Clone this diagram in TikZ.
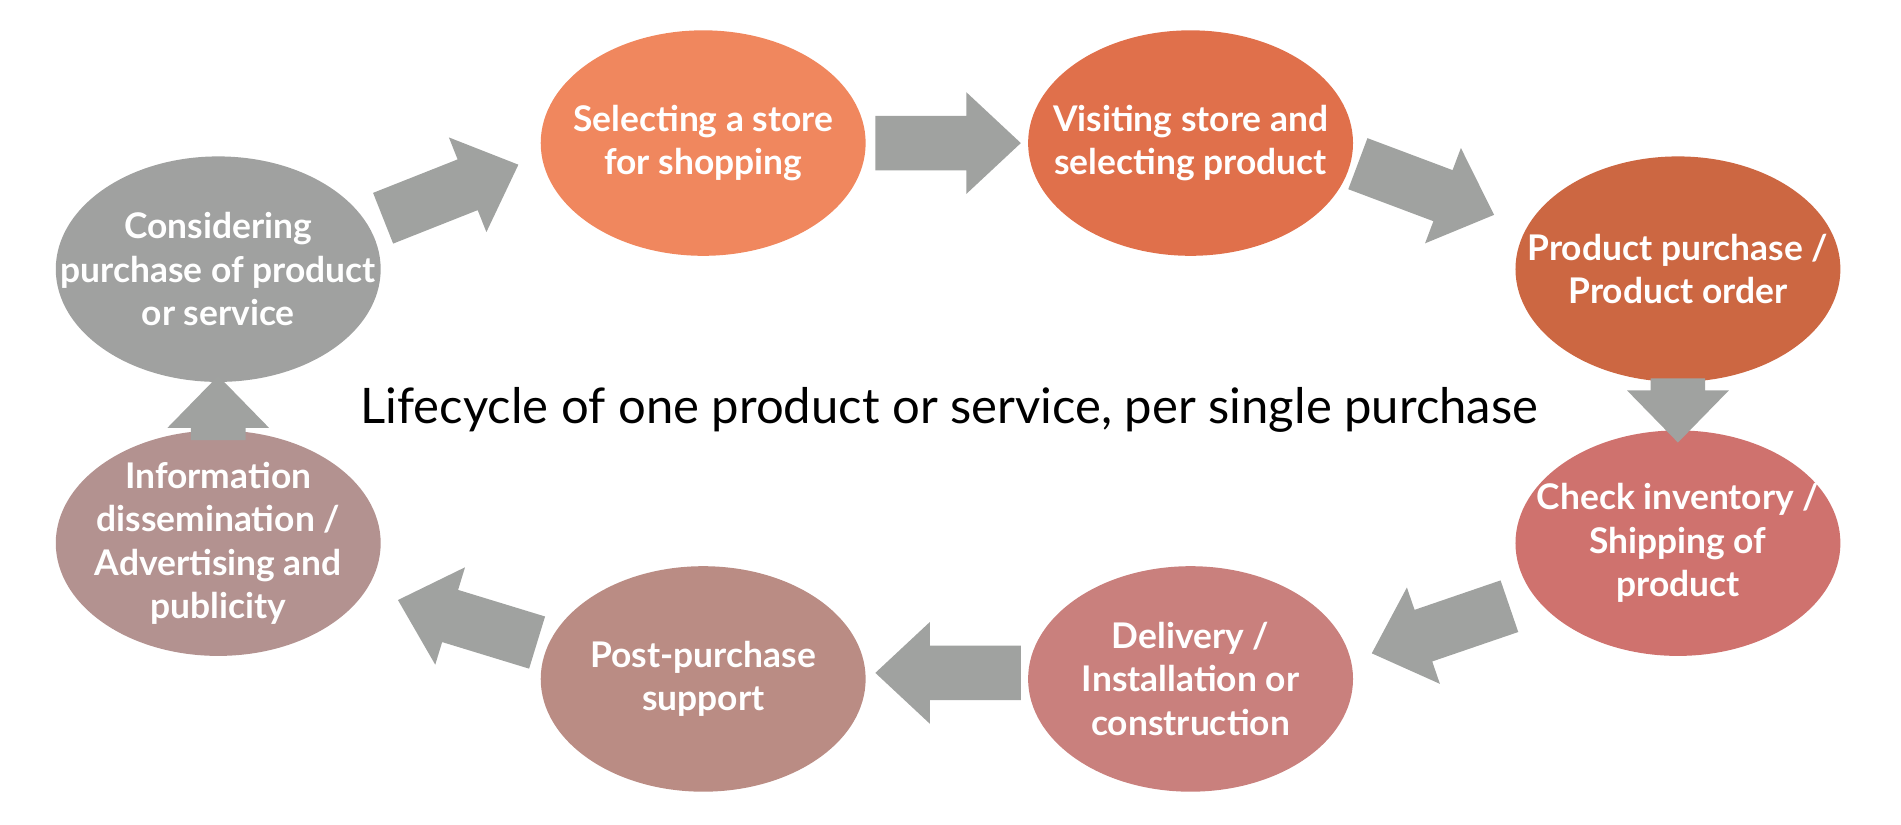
\documentclass[tikz,border=0pt]{standalone}
\usepackage{fontspec}
\setmainfont{Lato}
\usetikzlibrary{positioning}
\definecolor{arrowgray}{HTML}{A0A2A0}
\definecolor{cA}{HTML}{A0A1A0}
\definecolor{cB}{HTML}{F0875E}
\definecolor{cC}{HTML}{E0704B}
\definecolor{cD}{HTML}{CC6742}
\definecolor{cE}{HTML}{CF726E}
\definecolor{cF}{HTML}{C9807D}
\definecolor{cG}{HTML}{BA8C84}
\definecolor{cH}{HTML}{B39290}
\tikzset{
  stage/.style={ellipse, minimum width=2.68cm, minimum height=1.86cm, inner xsep=-1cm, inner ysep=-0.6cm,
    text=white, font=\fontsize{8.3pt}{10.2pt}\selectfont\bfseries, align=center},
  longarrow/.pic={\fill[arrowgray] (0,-0.225) -- (0.75,-0.225) -- (0.75,-0.42) -- (1.2,0) -- (0.75,0.42) -- (0.75,0.225) -- (0,0.225) -- cycle;},
  shortarrow/.pic={\fill[arrowgray] (0,-0.225) -- (0.1,-0.225) -- (0.1,-0.42) -- (0.53,0) -- (0.1,0.42) -- (0.1,0.225) -- (0,0.225) -- cycle;}
}
\usetikzlibrary{shapes.geometric}
\begin{document}
\begin{tikzpicture}
	\useasboundingbox (0,0) rectangle (15.68,6.80);
	% stages of the cycle
	\node[stage, fill=cA] (consider) at (1.80,4.58) {Considering\\purchase of product\\or service};
	\node[stage, fill=cB] (store) at (5.80,5.62) {Selecting a store\\for shopping};
	\node[stage, fill=cC] (visit) at (9.82,5.62) {Visiting store and\\selecting product};
	\node[stage, fill=cD] (order) at (13.84,4.58) {Product purchase /\\Product order};
	\node[stage, fill=cE] (ship) at (13.84,2.32) {Check inventory /\\Shipping of\\product};
	\node[stage, fill=cF] (deliver) at (9.82,1.20) {Delivery /\\Installation or\\construction};
	\node[stage, fill=cG] (support) at (5.80,1.20) {Post-purchase\\support};
	\node[stage, fill=cH] (inform) at (1.80,2.32) {Information\\dissemination /\\Advertising and\\publicity};
	\node[font=\fontsize{11.5pt}{13pt}\selectfont] (title) at (7.83,3.42) {Lifecycle of one product or service, per single purchase};
	% block arrows
	\pic[rotate=21.6] at (3.16,5.00) {longarrow};
	\pic at (7.22,5.62) {longarrow};
	\pic[rotate=-20.6] at (11.20,5.45) {longarrow};
	\pic[rotate=-90] at (13.84,3.68) {shortarrow};
	\pic[rotate=198.9] at (12.45,1.80) {longarrow};
	\pic[rotate=180] at (8.42,1.25) {longarrow};
	\pic[rotate=163] at (4.43,1.50) {longarrow};
	\pic[rotate=90] at (1.80,3.17) {shortarrow};
\end{tikzpicture}
\end{document}
